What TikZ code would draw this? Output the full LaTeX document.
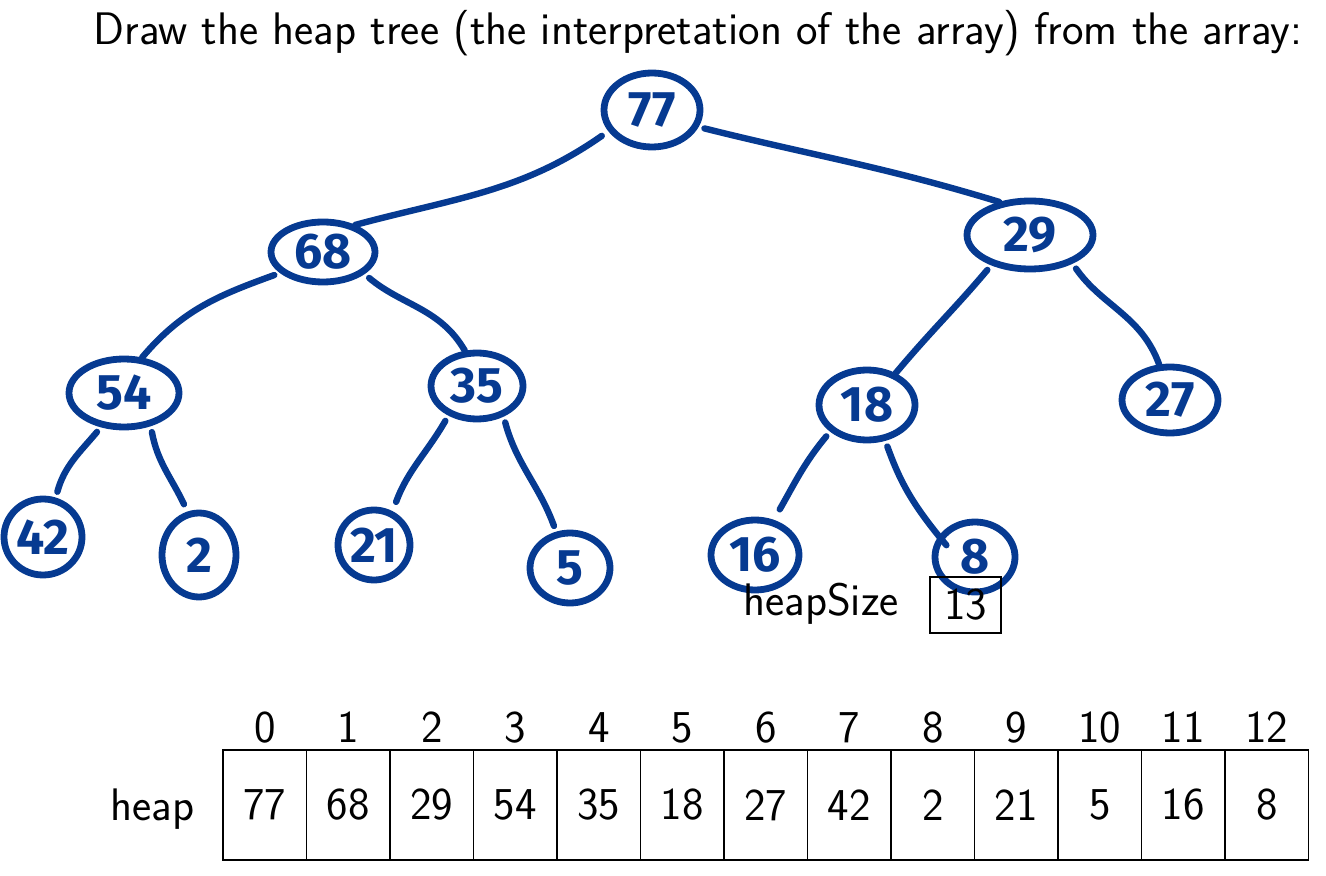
\documentclass[tikz,border=0pt]{standalone}
\usepackage{fontspec}
\usetikzlibrary{shapes.geometric}
\newfontfamily\handfont{Fira Sans}
\definecolor{ink}{RGB}{6,58,145}
\begin{document}
\begin{tikzpicture}[x=0.5pt,y=-0.5pt,
  hnode/.style={ellipse,draw=ink,line width=3.4pt,inner sep=0pt,text=ink,
    font=\handfont\bfseries\fontsize{25}{25}\selectfont},
  hedge/.style={draw=ink,line width=3.2pt,line cap=round},
  txt/.style={font=\sffamily\fontsize{22.8}{26}\selectfont,inner sep=0pt},
  cell/.style={draw,line width=0.8pt,minimum width=41.75pt,minimum height=55pt,inner sep=0pt,
    font=\sffamily\fontsize{22.8}{26}\selectfont}]
\useasboundingbox (0,0) rectangle (1326,876);
% title
\node[txt,anchor=base] (title) at (698,45) {Draw the heap tree (the interpretation of the array) from the array:};
% tree nodes
\node[hnode,minimum width=48pt,minimum height=37pt] (n77) at (652,110) {77};
\node[hnode,minimum width=52pt,minimum height=30pt] (n68) at (323,252) {68};
\node[hnode,minimum width=63pt,minimum height=34pt] (n29) at (1030,235) {29};
\node[hnode,minimum width=55pt,minimum height=34pt] (n54) at (124,393) {54};
\node[hnode,minimum width=46pt,minimum height=33pt] (n35) at (477,386) {35};
\node[hnode,minimum width=48pt,minimum height=35pt] (n18) at (867,405) {18};
\node[hnode,minimum width=48pt,minimum height=33pt] (n27) at (1170,400) {27};
\node[hnode,minimum width=39pt,minimum height=38pt] (n42) at (43,537) {42};
\node[hnode,minimum width=37pt,minimum height=42pt] (n2) at (199,555) {2};
\node[hnode,minimum width=36pt,minimum height=35pt] (n21) at (374,545) {21};
\node[hnode,minimum width=40pt,minimum height=35pt] (n5) at (570,568) {5};
\node[hnode,minimum width=44pt,minimum height=35pt] (n16) at (755,555) {16};
\node[hnode,minimum width=40pt,minimum height=35pt] (n8) at (975,557) {8};
% tree edges
\draw[hedge,shorten <=4pt] (n77.206) to[out=215,in=15] (n68.40);
\draw[hedge,shorten <=3pt] (n77.-20) to[out=-14,in=163] (n29.133);
\draw[hedge,shorten <=3pt] (n68.206) to[out=200,in=50] (n54.63);
\draw[hedge,shorten <=3pt] (n68.332) to[out=-40,in=120] (n35.109);
\draw[hedge,shorten <=3pt] (n29.218) to[out=230,in=50] (n18.48);
\draw[hedge,shorten <=3pt] (n29.326) to[out=-55,in=110] (n27.107);
\draw[hedge,shorten <=3pt,shorten >=3pt] (n54.236) to[out=230,in=75] (n42.72);
\draw[hedge,shorten <=3pt,shorten >=4pt] (n54.309) to[out=-80,in=115] (n2.105);
\draw[hedge,shorten <=3pt,shorten >=5pt] (n35.226) to[out=240,in=70] (n21.61);
\draw[hedge,shorten <=3pt,shorten >=3pt] (n35.311) to[out=-75,in=110] (n5.111);
\draw[hedge,shorten <=3pt,shorten >=6pt] (n18.216) to[out=230,in=60] (n16.62);
\draw[hedge,shorten <=3pt,shorten >=-6pt] (n18.297) to[out=-70,in=130] (n8.150);
% heapSize
\node[txt,anchor=base] (hslabel) at (821,615) {heapSize};
\node[draw,line width=0.8pt,minimum width=35.5pt,minimum height=28pt,inner sep=0pt,
  font=\sffamily\fontsize{22.8}{26}\selectfont] (hsbox) at (965.5,605) {13};
% array
\node[txt,anchor=base east] (heaplabel) at (195,820) {heap};
\foreach \v [count=\i from 0] in {77,68,29,54,35,18,27,42,2,21,5,16,8} {
  \node[cell] (c\i) at ({223+41.75+83.5*\i},805) {\v};
  \node[txt,anchor=base] (idx\i) at ({223+41.75+83.5*\i},742) {\i};
}
\end{tikzpicture}
\end{document}
